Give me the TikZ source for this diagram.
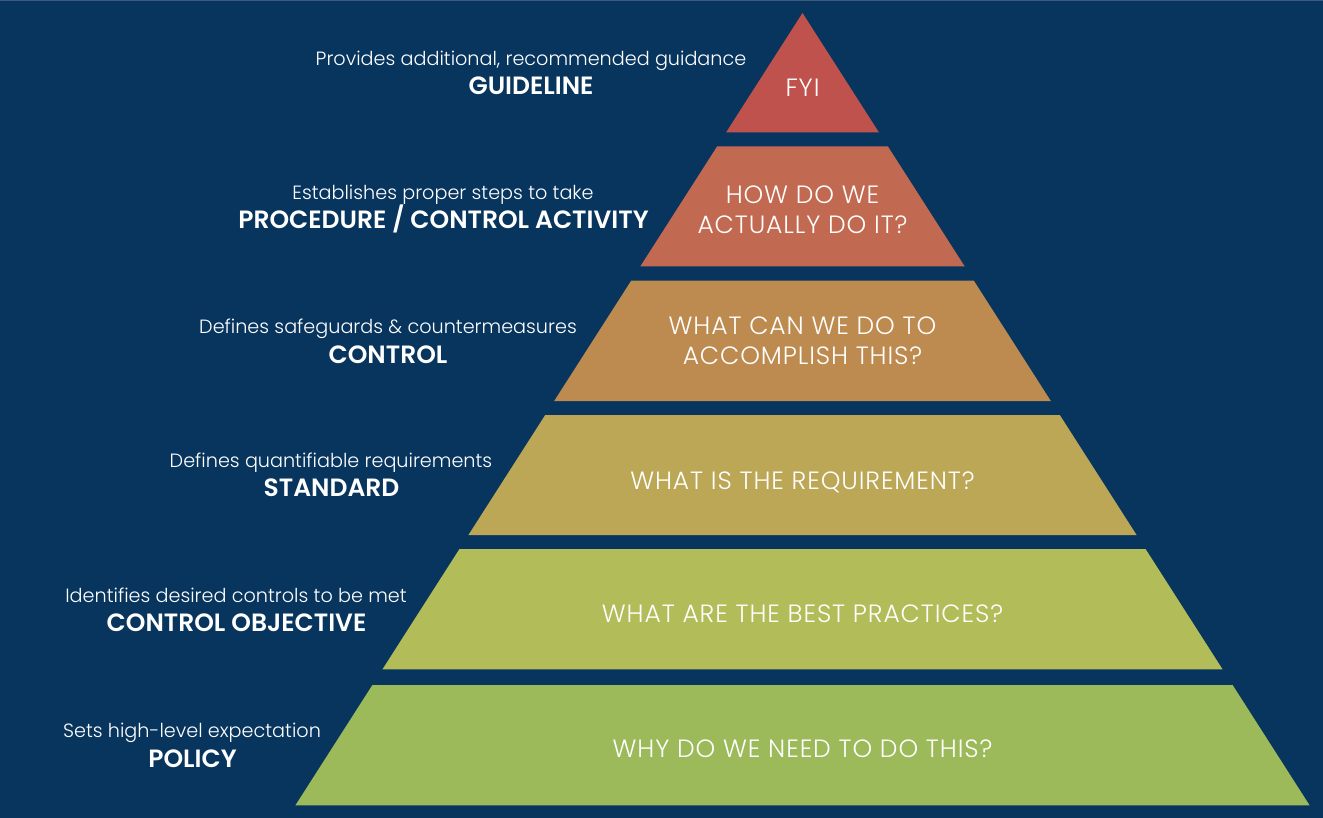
\documentclass[tikz,border=0pt]{standalone}
\usepackage{fontspec}
\setmainfont{Poppins}
\newfontfamily\plight[LetterSpace=3.6]{Poppins Light}
\newfontfamily\lightsm{Poppins Light}
\newfontfamily\semib{Poppins SemiBold}
\definecolor{bg}{HTML}{08355E}
\definecolor{topline}{HTML}{3B5A80}
\definecolor{c1}{HTML}{C0524E}
\definecolor{c2}{HTML}{C26A51}
\definecolor{c3}{HTML}{BD8B50}
\definecolor{c4}{HTML}{BBA755}
\definecolor{c5}{HTML}{B2BC58}
\definecolor{c6}{HTML}{9CBA5A}
\newcommand\pyrband[3]{%
  \fill[#3] ({802.5-(#1-13)*0.64},#1) -- ({802.5+(#1-13)*0.64},#1) --
    ({802.5+(#2-13)*0.64},#2) -- ({802.5-(#2-13)*0.64},#2) -- cycle;}
\begin{document}
\begin{tikzpicture}[x=1pt,y=-1pt,
  ptext/.style={text=white,anchor=base,align=center,inner sep=0pt,
    font=\plight\fontsize{25}{29.5}\selectfont},
  lsmall/.style={text=white,anchor=base,inner sep=0pt,
    font=\lightsm\fontsize{19.2}{24}\selectfont},
  ltitle/.style={text=white,anchor=base,inner sep=0pt,
    font=\semib\fontsize{25}{28}\selectfont}]
\useasboundingbox (0,0) rectangle (1323,818);
\fill[bg] (0,0) rectangle (1323,818);
\fill[topline] (0,0) rectangle (1323,1.2);
\pyrband{13}{132.5}{c1}
\pyrband{146.5}{266.5}{c2}
\pyrband{280.7}{401}{c3}
\pyrband{415}{535}{c4}
\pyrband{549}{669.3}{c5}
\pyrband{685}{805.3}{c6}
% pyramid texts
\node[ptext] (t1) at (802.5,96.7) {FYI};
\node[ptext] (t2) at (802.5,233.5) {HOW DO WE\\ACTUALLY DO IT?};
\node[ptext] (t3) at (802.5,364.3) {WHAT CAN WE DO TO\\ACCOMPLISH THIS?};
\node[ptext] (t4) at (802.5,489.3) {WHAT IS THE REQUIREMENT?};
\node[ptext] (t5) at (802.5,622.3) {WHAT ARE THE BEST PRACTICES?};
\node[ptext] (t6) at (802.5,757.7) {WHY DO WE NEED TO DO THIS?};
% left labels
\node[lsmall] (s1) at (531,65.5) {Provides additional, recommended guidance};
\node[ltitle] (h1) at (531,95) {GUIDELINE};
\node[lsmall] (s2) at (443,199.5) {Establishes proper steps to take};
\node[ltitle] (h2) at (443.5,229) {PROCEDURE / CONTROL ACTIVITY};
\node[lsmall] (s3) at (388,334) {Defines safeguards \& countermeasures};
\node[ltitle] (h3) at (388,363.3) {CONTROL};
\node[lsmall] (s4) at (331,467.3) {Defines quantifiable requirements};
\node[ltitle] (h4) at (331.5,496.7) {STANDARD};
\node[lsmall] (s5) at (236,602.3) {Identifies desired controls to be met};
\node[ltitle] (h5) at (236.5,631) {CONTROL OBJECTIVE};
\node[lsmall] (s6) at (192,737.7) {Sets high-level expectation};
\node[ltitle] (h6) at (192.5,767.3) {POLICY};
\end{tikzpicture}
\end{document}
